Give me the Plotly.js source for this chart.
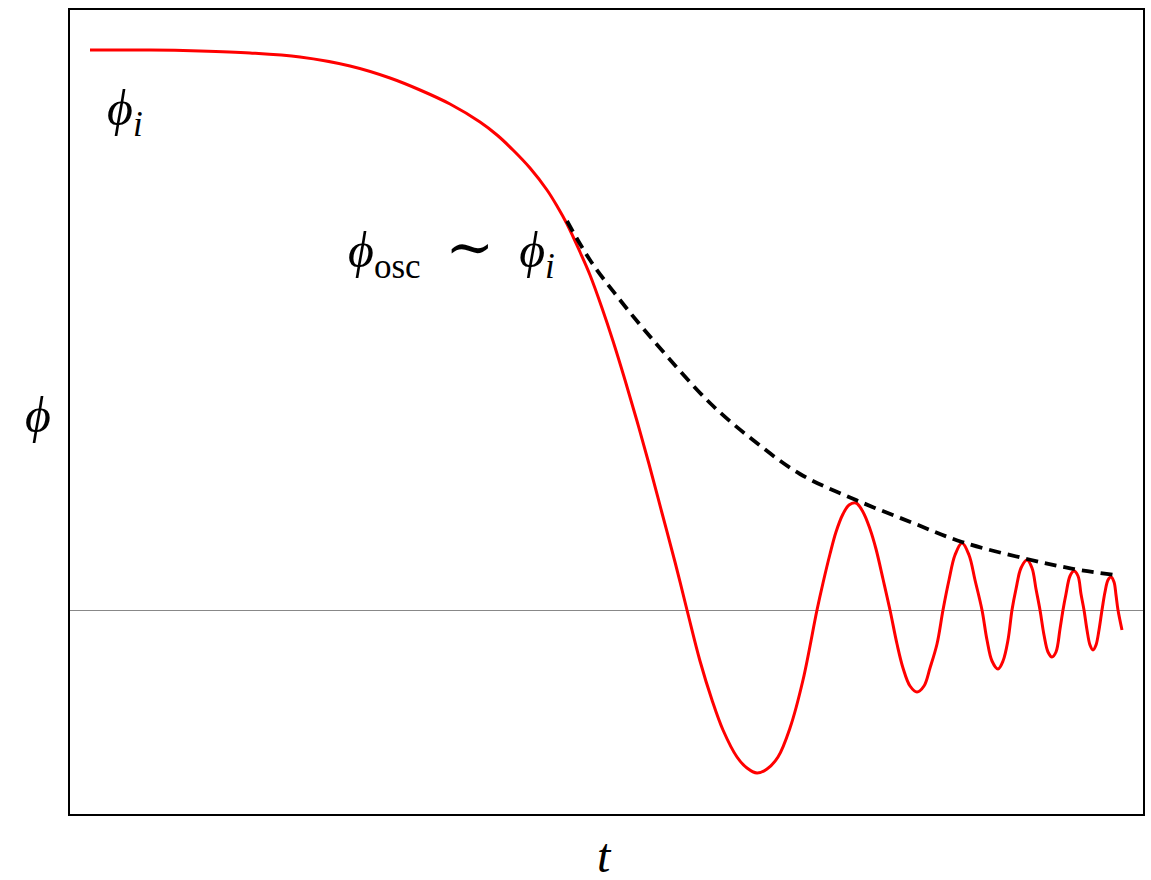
<!DOCTYPE html>
<html>
<head>
<meta charset="utf-8">
<script src="https://cdn.plot.ly/plotly-3.0.1.min.js"></script>
<style>html,body{margin:0;padding:0;background:#fff;}#chart{width:1151px;height:880px;}</style>
</head>
<body>
<div id="chart"></div>
<script>
// Field evolution phi(t) (arbitrary units)
const fieldT = [0.20,0.80,1.30,1.80,2.30,2.80,3.20,3.50,3.80,4.10,
  4.27,4.43,4.60,4.77,4.87,4.97,5.10,5.20,5.32,5.43,
  5.55,5.67,5.79,5.92,6.05,6.17,6.30,6.42,6.53,6.67,
  6.77,6.87,6.97,7.08,7.20,7.33,7.47,
  7.53,7.60,7.66,7.73,7.79,7.86,7.93,8.00,8.06,8.13,8.20,8.27,
  8.33,8.40,8.47,8.54,8.60,8.67,8.73,8.79,8.85,8.92,
  8.99,9.05,9.12,9.17,9.22,9.28,9.33,9.38,9.42,9.46,
  9.51,9.57,9.62,9.66,9.70,9.74,9.78,9.82,9.86,9.90,
  9.93,9.96,10.00,10.04,10.08,10.11,10.14,10.17,10.20,10.23,
  10.26,10.29,10.32,10.35,10.38,10.41,10.44,10.46,10.48,10.52];
const fieldPhi = [5.60,5.60,5.59,5.57,5.53,5.44,5.32,5.20,5.06,4.88,
  4.75,4.60,4.42,4.20,4.04,3.86,3.58,3.35,3.02,2.69,
  2.30,1.89,1.46,0.97,0.48,0.00,-0.51,-0.90,-1.20,-1.47,
  -1.58,-1.63,-1.59,-1.47,-1.18,-0.70,0.00,
  0.27,0.56,0.78,0.96,1.05,1.07,0.98,0.81,0.61,0.31,0.00,-0.34,
  -0.58,-0.76,-0.82,-0.76,-0.58,-0.34,0.00,0.30,0.55,0.67,
  0.55,0.30,0.00,-0.30,-0.51,-0.59,-0.51,-0.30,0.00,0.21,
  0.42,0.50,0.42,0.21,0.00,-0.25,-0.42,-0.47,-0.42,-0.19,
  0.00,0.16,0.34,0.39,0.34,0.16,0.00,-0.20,-0.35,-0.40,
  -0.35,-0.20,0.00,0.18,0.30,0.33,0.28,0.15,0.00,-0.20];
// Oscillation amplitude envelope
const envT = [4.97,5.20,5.50,5.83,6.40,6.83,7.30,7.86,8.43,8.92,9.57,10.04,10.45];
const envPhi = [3.89,3.50,3.10,2.70,2.07,1.70,1.36,1.10,0.87,0.68,0.51,0.41,0.35];
// Text labels
const labelInit = "<i>ϕ</i><sub><i>i</i></sub>";
const labelOsc = "<i>ϕ</i><sub>osc</sub>\u2002<span style=\"font-size:58px\">∼</span>\u2002<i>ϕ</i><sub><i>i</i></sub>";
const labelX = "<i>t</i>";
const labelY = "<i>ϕ</i>";

const serif = "Liberation Serif, DejaVu Serif, serif";

const traces = [
  {x: fieldT, y: fieldPhi, mode: "lines", line: {color: "#ff0000", width: 3, shape: "spline", smoothing: 1}, hoverinfo: "skip"},
  {x: envT, y: envPhi, mode: "lines", line: {color: "#000000", width: 3.8, dash: "12px,7px", shape: "spline", smoothing: 1}, hoverinfo: "skip"}
];

const layout = {
  width: 1151, height: 880,
  margin: {l: 70, r: 8, t: 10, b: 66},
  paper_bgcolor: "#fff", plot_bgcolor: "#fff",
  showlegend: false,
  xaxis: {range: [0, 10.73], showgrid: false, zeroline: false, showticklabels: false, ticks: "",
          showline: true, mirror: true, linecolor: "#000", linewidth: 2},
  yaxis: {range: [-2.04, 6.0], showgrid: false, zeroline: true, zerolinecolor: "#888", zerolinewidth: 1,
          showticklabels: false, ticks: "", showline: true, mirror: true, linecolor: "#000", linewidth: 2},
  annotations: [
    {x: 0.55, y: 4.98, xref: "x", yref: "y", text: labelInit, showarrow: false, font: {family: serif, size: 50, color: "#000"}},
    {x: 3.81, y: 3.60, xref: "x", yref: "y", text: labelOsc, showarrow: false, font: {family: serif, size: 50, color: "#000"}},
    {x: 0.4986, y: -0.052, xref: "paper", yref: "paper", yanchor: "middle", text: labelX, showarrow: false, font: {family: serif, size: 48, color: "#000"}},
    {x: -0.03, y: 0.496, xref: "paper", yref: "paper", xanchor: "center", yanchor: "middle", text: labelY, showarrow: false, font: {family: serif, size: 50, color: "#000"}}
  ]
};

Plotly.newPlot("chart", traces, layout, {staticPlot: true, displayModeBar: false});
</script>
</body>
</html>
